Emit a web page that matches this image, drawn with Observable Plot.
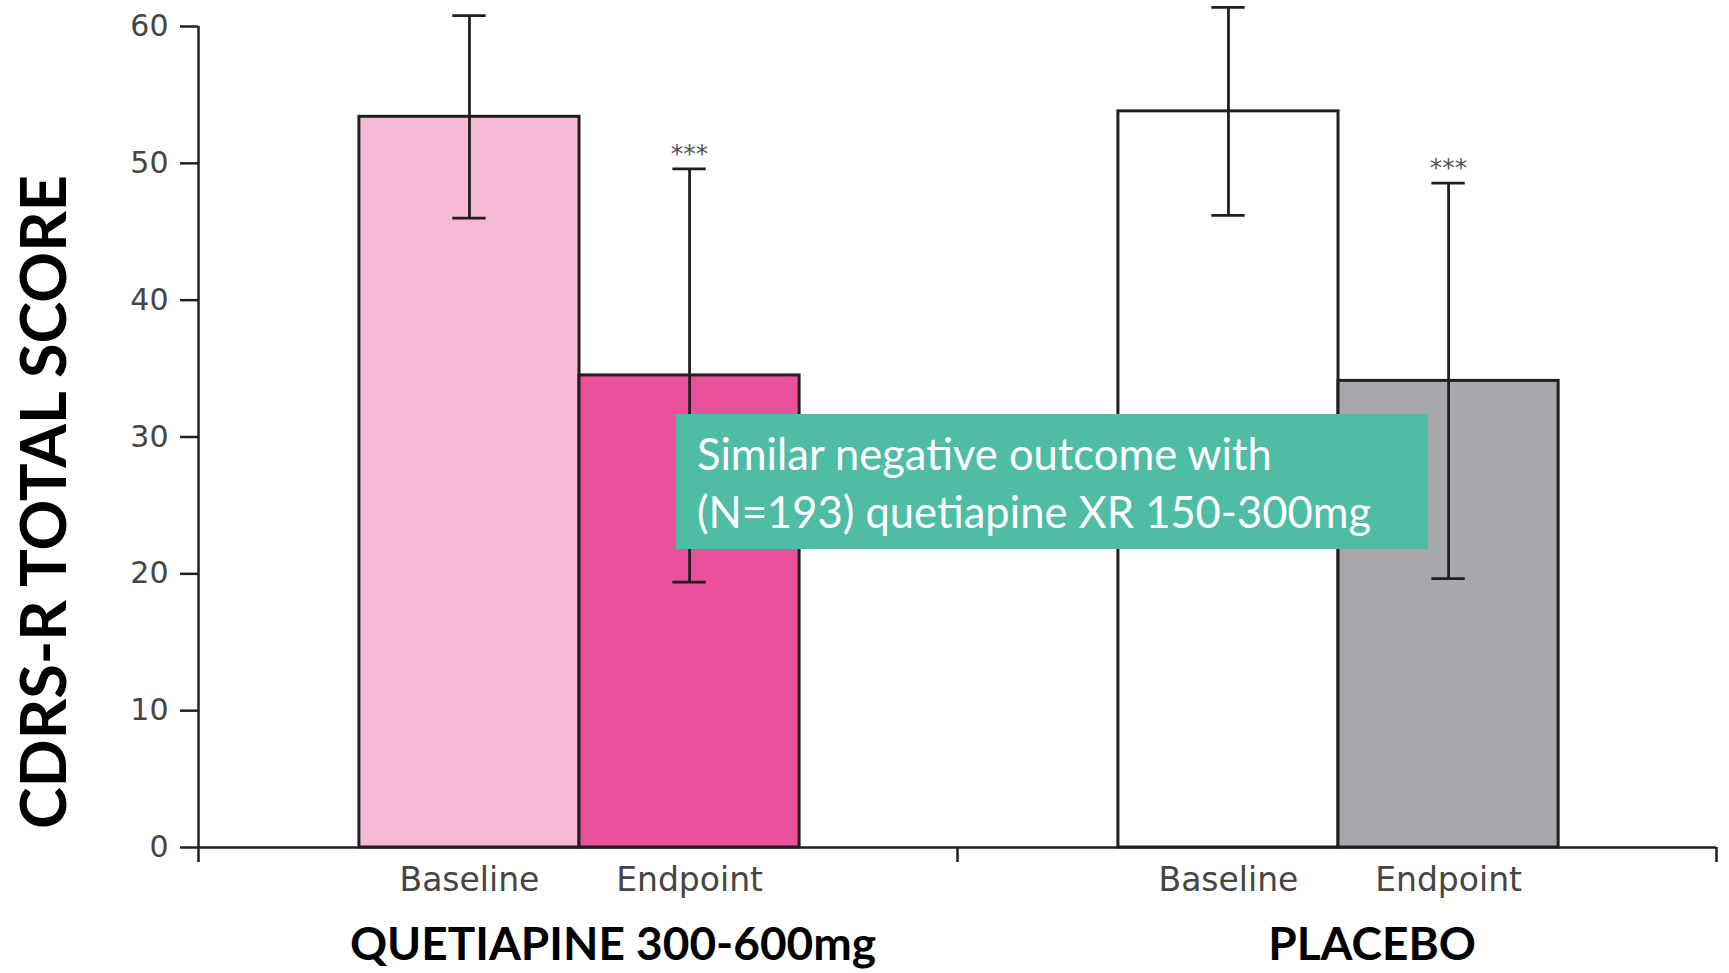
<!DOCTYPE html>
<html>
<head>
<meta charset="utf-8">
<script src="https://cdn.jsdelivr.net/npm/d3@7"></script>
<script src="https://cdn.jsdelivr.net/npm/@observablehq/plot@0.6"></script>
<style>
  html, body { margin: 0; padding: 0; background: #ffffff; }
  #chart { position: relative; width: 1729px; height: 973px; }
  #note {
    position: absolute;
    left: 676px; top: 414px; width: 752px; height: 135px;
    box-sizing: border-box;
    padding: 10px 0 0 21px;
    background: #4fbca5;
    color: #ffffff;
    font-family: Lato, "Open Sans", sans-serif;
    font-size: 43.5px;
    line-height: 58px;
    white-space: nowrap;
  }
</style>
</head>
<body>
<div id="chart"></div>
<script>
// Treatment groups and assessment times
const groups = ["QUETIAPINE 300-600mg", "PLACEBO"];
const timepoints = ["Baseline", "Endpoint"];

// CDRS-R total score, mean and standard deviation per time point
const quetiapineMean = [53.4, 34.5];
const quetiapineSD = [7.4, 15.1];
const placeboMean = [53.8, 34.1];
const placeboSD = [7.6, 14.45];

// Significance marker shown above each bar
const significance = ["", "***"];

// Axis ticks and text
const yTicks = [0, 10, 20, 30, 40, 50, 60];
const yTitle = "CDRS-R TOTAL SCORE";
const noteLines = ["Similar negative outcome with", "(N=193) quetiapine XR 150-300mg"];

// Bar fills, one per group × time point
const barFills = ["#f6b9d5", "#eb519b", "#ffffff", "#a7a8ab"];

const means = [quetiapineMean, placeboMean];
const sds = [quetiapineSD, placeboSD];

// Each group occupies one unit of x; the two bars sit side by side near its centre
const barWidth = 0.29;
const pairCenter = 0.502;
const capHalf = 0.022;

const rows = [];
groups.forEach((group, gi) => {
  timepoints.forEach((timepoint, ti) => {
    const left = gi + pairCenter + (ti - 1) * barWidth;
    rows.push({
      key: `${group} · ${timepoint}`,
      group, timepoint,
      left, right: left + barWidth, center: left + barWidth / 2,
      mean: means[gi][ti], sd: sds[gi][ti],
      stars: significance[ti]
    });
  });
});

const ink = "#231f20";

const chart = Plot.plot({
  width: 1729,
  height: 973,
  marginLeft: 198,
  marginRight: 13,
  marginTop: 26,
  marginBottom: 126,
  style: { background: "transparent", fontFamily: "'DejaVu Sans', sans-serif", overflow: "visible" },
  x: { domain: [0, groups.length], axis: null },
  y: { domain: [0, 60], axis: null },
  color: { domain: rows.map(d => d.key), range: barFills },
  marks: [
    // bars
    Plot.rectY(rows, { x1: "left", x2: "right", y1: 0, y2: "mean", fill: "key", stroke: ink, strokeWidth: 3 }),
    // error bars: stem and caps
    Plot.ruleX(rows, { x: "center", y1: d => d.mean - d.sd, y2: d => d.mean + d.sd, stroke: ink, strokeWidth: 2.8 }),
    Plot.ruleY(rows, { x1: d => d.center - capHalf, x2: d => d.center + capHalf, y: d => d.mean + d.sd, stroke: ink, strokeWidth: 2.8 }),
    Plot.ruleY(rows, { x1: d => d.center - capHalf, x2: d => d.center + capHalf, y: d => d.mean - d.sd, stroke: ink, strokeWidth: 2.8 }),
    // significance stars
    Plot.text(rows.filter(d => d.stars), { x: "center", y: d => d.mean + d.sd, text: "stars", lineAnchor: "bottom", dy: -7, fontSize: 25, fill: "#555" }),
    // y axis
    Plot.axisY({ ticks: yTicks, tickSize: 18, tickPadding: 12, fontSize: 30, fill: "#454545", stroke: ink, strokeWidth: 2.5, label: null }),
    Plot.ruleX([0], { y1: 0, y2: 60, stroke: ink, strokeWidth: 2.5 }),
    // x axis line with group boundary ticks
    Plot.ruleY([0], { stroke: ink, strokeWidth: 2.5 }),
    Plot.axisX({ ticks: d3.range(groups.length + 1), tickSize: 15, tickFormat: () => "", stroke: ink, strokeWidth: 2.5, label: null }),
    // time point labels under each bar
    Plot.text(rows, { x: "center", y: 0, text: "timepoint", lineAnchor: "top", dy: 20, fontSize: 33, fill: "#454545" }),
    // group labels
    Plot.text(groups, { x: (d, i) => i + 0.5, frameAnchor: "bottom", text: d => d, lineAnchor: "top", dy: 80, dx: 35, fontSize: 46, fontWeight: "bold", fontFamily: "Lato, sans-serif", fill: "#000" }),
    // y axis title
    Plot.text([yTitle], { frameAnchor: "left", text: d => d, rotate: -90, textAnchor: "middle", dx: -153, dy: 65, fontSize: 63, fontWeight: "bold", fontFamily: "Lato, sans-serif", fill: "#000" })
  ]
});

const container = document.getElementById("chart");
container.appendChild(chart);

const note = document.createElement("div");
note.id = "note";
note.innerHTML = noteLines.map(s => `<div>${s}</div>`).join("");
container.appendChild(note);
</script>
</body>
</html>
